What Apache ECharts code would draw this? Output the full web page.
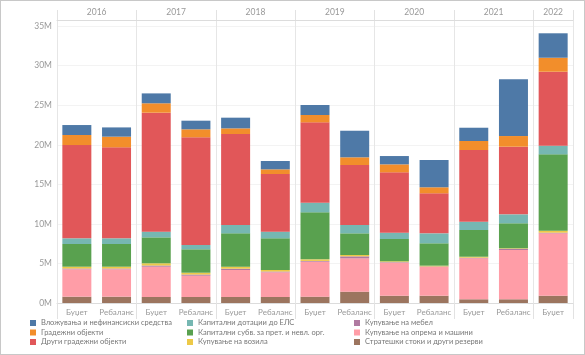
<!DOCTYPE html>
<html>
<head>
<meta charset="utf-8">
<script src="https://cdn.jsdelivr.net/npm/echarts@6/dist/echarts.min.js"></script>
<style>
html,body{margin:0;padding:0;background:#fff;}
#chart{width:585px;height:355px;outline:1px solid #c8c8c8;outline-offset:-1px;}
</style>
</head>
<body>
<div id="chart"></div>
<script>
const years = ['2016','2017','2018','2019','2020','2021','2022'];
const groupSizes = [2,2,2,2,2,2,1];
const categories = ['Буџет','Ребаланс','Буџет','Ребаланс','Буџет','Ребаланс','Буџет','Ребаланс','Буџет','Ребаланс','Буџет','Ребаланс','Буџет'];
const yTicks = [0,5,10,15,20,25,30,35];

// values in millions, bottom of stack first
const strateshki = [0.80,0.80,0.76,0.76,0.76,0.76,0.80,1.43,0.92,0.92,0.47,0.47,0.92];
const oprema     = [3.46,3.46,3.83,2.69,3.41,3.12,4.42,4.22,4.18,3.63,5.18,6.23,7.89];
const mebel      = [0.10,0.10,0.15,0.15,0.17,0.10,0.10,0.25,0.07,0.07,0.08,0.15,0.08];
const vozila     = [0.23,0.23,0.28,0.23,0.25,0.19,0.20,0.17,0.10,0.10,0.12,0.07,0.25];
const subvencii  = [2.87,2.87,3.28,2.96,4.22,4.01,5.95,2.74,2.82,2.83,3.38,3.16,9.66];
const dotacii    = [0.72,0.72,0.72,0.54,1.05,0.84,1.21,1.05,0.80,1.26,1.05,1.13,1.09];
const drugi      = [11.79,11.50,15.04,13.62,11.51,7.29,10.16,7.59,7.63,5.06,9.06,8.55,9.35];
const gradezni   = [1.27,1.35,1.19,1.01,0.71,0.59,0.93,0.97,1.01,0.76,1.14,1.35,1.77];
const vlozuvanja = [1.26,1.17,1.25,1.09,1.35,1.05,1.26,3.36,1.05,3.45,1.68,7.17,3.09];

const seriesDefs = [
  ['Стратешки стоки и други резерви', strateshki, '#9c755f'],
  ['Купување на опрема и машини', oprema, '#ff9da7'],
  ['Купување на мебел', mebel, '#b07aa1'],
  ['Купување на возила', vozila, '#edc948'],
  ['Капитални субв. за прет. и невл. орг.', subvencii, '#59a14f'],
  ['Капитални дотации до ЕЛС', dotacii, '#76b7b2'],
  ['Други градежни објекти', drugi, '#e15759'],
  ['Градежни објекти', gradezni, '#f28e2b'],
  ['Вложувања и нефинансиски средства', vlozuvanja, '#4e79a7']
];

const legendCols = [
  ['Вложувања и нефинансиски средства','Градежни објекти','Други градежни објекти'],
  ['Капитални дотации до ЕЛС','Капитални субв. за прет. и невл. орг.','Купување на возила'],
  ['Купување на мебел','Купување на опрема и машини','Стратешки стоки и други резерви']
];

// group boundaries and centres on a 0..N scale
const boundaries = [0];
const centres = [];
groupSizes.forEach(s => { const b = boundaries[boundaries.length-1]; centres.push(b + s/2); boundaries.push(b + s); });

const font = 'Lato, "Open Sans", sans-serif';
const chart = echarts.init(document.getElementById('chart'));
chart.setOption({
  animation: false,
  color: seriesDefs.map(d => d[2]),
  grid: {left: 57, right: 12, top: 20, bottom: 52},
  legend: legendCols.map((col, i) => ({
    data: col,
    orient: 'vertical',
    left: [30, 187, 354][i],
    top: 319,
    itemWidth: 6,
    itemHeight: 6,
    itemGap: 1.5,
    itemTextGap: 4,
    icon: 'rect',
    padding: 0,
    selectedMode: false,
    textStyle: {fontSize: 7.5, color: '#777', fontFamily: font, lineHeight: 8}
  })),
  xAxis: [
    {
      type: 'category', data: categories, position: 'bottom',
      axisLine: {show: true, lineStyle: {color: '#dcdcdc'}},
      axisTick: {show: false},
      axisLabel: {fontSize: 8, color: '#999', margin: 5, fontFamily: font, interval: 0}
    },
    {
      type: 'value', min: 0, max: categories.length, position: 'top',
      axisLine: {show: true, lineStyle: {color: '#dcdcdc'}},
      axisTick: {show: true, customValues: boundaries, length: 10, lineStyle: {color: '#e2e2e2'}},
      axisLabel: {customValues: centres, margin: 3, fontSize: 8.5, color: '#999', fontFamily: font,
        formatter: v => years[centres.indexOf(v)] || ''},
      splitLine: {show: true, lineStyle: {color: '#e6e6e6'}}
    },
    {
      type: 'value', min: 0, max: categories.length, position: 'bottom',
      axisLine: {show: false},
      axisTick: {show: true, customValues: boundaries, length: 16, lineStyle: {color: '#e2e2e2'}},
      axisLabel: {show: false},
      splitLine: {show: false}
    }
  ],
  yAxis: {
    type: 'value', min: 0, max: 35.78, interval: 5,
    axisLine: {show: false}, axisTick: {show: false},
    axisLabel: {fontSize: 8.5, color: '#999', margin: 5, fontFamily: font,
      customValues: yTicks, formatter: v => v + 'M'},
    splitLine: {show: true, lineStyle: {color: '#f3f3f3'}}
  },
  series: seriesDefs.map(d => ({
    name: d[0], type: 'bar', stack: 'total', data: d[1], barWidth: 29,
    xAxisIndex: 0, yAxisIndex: 0
  }))
});
</script>
</body>
</html>
